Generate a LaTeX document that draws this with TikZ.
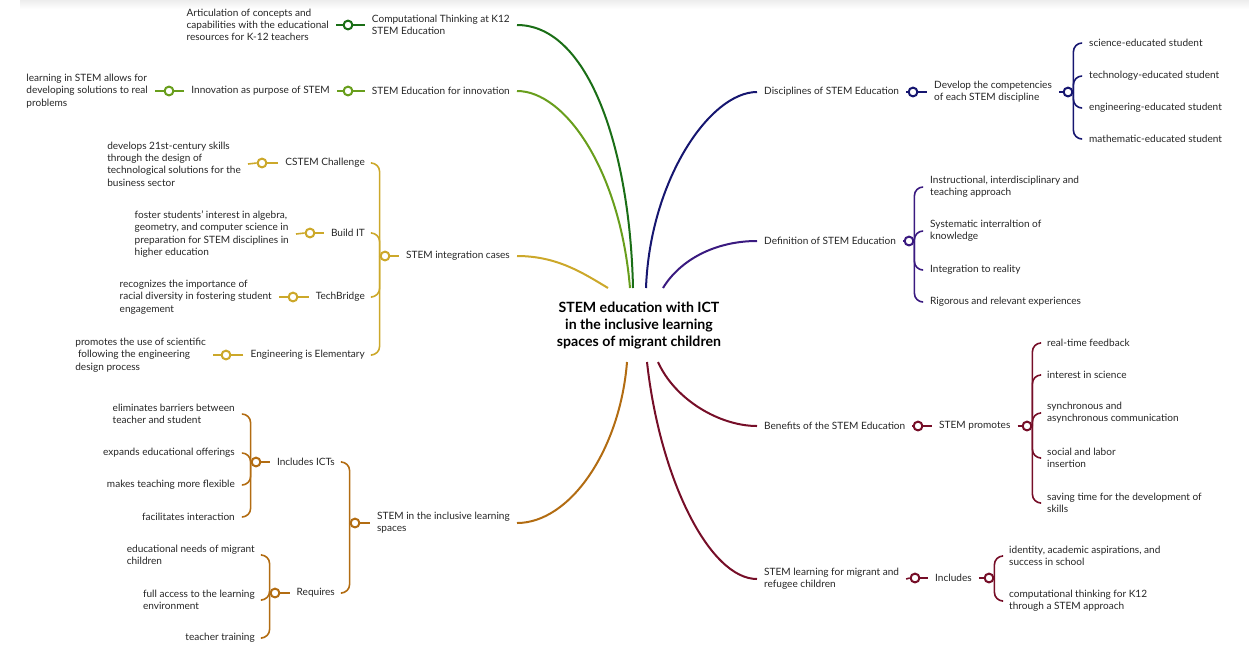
\documentclass[tikz,border=0pt]{standalone}
\usepackage{fontspec}
\setmainfont{Lato}
\usepackage{tikz}
\usetikzlibrary{positioning}
\definecolor{ctgreen}{RGB}{26,110,22}
\definecolor{ingreen}{RGB}{104,158,28}
\definecolor{gold}{RGB}{204,168,42}
\definecolor{navy}{RGB}{22,22,112}
\definecolor{indigo}{RGB}{58,26,128}
\definecolor{amber}{RGB}{178,108,18}
\definecolor{maroon}{RGB}{118,14,40}
\definecolor{inkgray}{RGB}{38,38,38}

\begin{document}
\begin{tikzpicture}[x=0.75pt,y=-0.75pt,
  topic/.style={font=\fontsize{7.55}{9.2}\selectfont, align=left, inner xsep=5.2pt, inner ysep=1pt, text=inkgray},
  knob/.style={circle, draw=#1, line width=1.5pt, fill=white, minimum size=6.6pt, inner sep=0pt},
  branch/.style={line width=1.5pt},
  twig/.style={line width=1.2pt},
  brace/.style={line width=1.2pt, rounded corners=6.5pt}]
\useasboundingbox (0,0) rectangle (1249,644);
\fill[top color=black!7, bottom color=white] (20,0) rectangle (1249,9);

\node[font=\bfseries\fontsize{10.6}{12.75}\selectfont, align=center, text=black] (root) at (639,326) {STEM education with ICT\\in the inclusive learning\\spaces of migrant children};
\coordinate (rt1) at (608,288);
\coordinate (rt2) at (633,288);
\coordinate (rt3) at (630,288);
\coordinate (rt4) at (646,288);
\coordinate (rt5) at (663,288);
\coordinate (rb1) at (627,362);
\coordinate (rb2) at (658,362);
\coordinate (rb3) at (647,362);

% left side
\node[topic, anchor=east] (ct) at (517,25) {Computational Thinking at K12\\STEM Education};
\node[knob=ctgreen] (ctk) at (348,25) {};
\node[topic, anchor=east] (art) at (336,25) {Articulation of concepts and\\capabilities with the educational\\resources for K-12 teachers};

\node[topic, anchor=east] (sei) at (517,91) {STEM Education for innovation};
\node[knob=ingreen] (seik) at (348,91) {};
\node[topic, anchor=east] (inn) at (337,91) {Innovation as purpose of STEM};
\node[knob=ingreen] (innk) at (169,91) {};
\node[topic, anchor=east] (lrn) at (155,91) {learning in STEM allows for\\developing solutions to real\\problems};

\node[topic, anchor=east] (sic) at (517,256) {STEM integration cases};
\node[knob=gold] (sick) at (385,256) {};
\node[topic, anchor=east] (cstem) at (372,163) {CSTEM Challenge};
\node[topic, anchor=east] (bit) at (372,233) {Build IT};
\node[topic, anchor=east] (tb) at (372,297) {TechBridge};
\node[topic, anchor=east] (eie) at (372,355) {Engineering is Elementary};
\node[knob=gold] (cstemk) at (262,163) {};
\node[topic, anchor=east] (dev) at (248,164) {develops 21st-century skills\\through the design of\\technological solutions for the\\business sector};
\node[knob=gold] (bitk) at (310,233) {};
\node[topic, anchor=east] (fos) at (296,234) {foster students' interest in algebra,\\geometry, and computer science in\\preparation for STEM disciplines in\\higher education};
\node[knob=gold] (tbk) at (293,297) {};
\node[topic, anchor=east] (rec) at (279,297) {recognizes the importance of\\racial diversity in fostering student\\engagement};
\node[knob=gold] (eiek) at (226,355) {};
\node[topic, anchor=east] (pro) at (213,355) {promotes the use of scientific\\\hspace{2pt}following the engineering\\design process};

\node[topic, anchor=east] (sils) at (517,523) {STEM in the inclusive learning\\spaces};
\node[knob=amber] (silk) at (355,523) {};
\node[topic, anchor=east] (ict) at (342,462) {Includes ICTs};
\node[topic, anchor=east] (req) at (342,593) {Requires};
\node[knob=amber] (ictk) at (256,462) {};
\node[topic, anchor=east] (elim) at (242,414) {eliminates barriers between\\teacher and student};
\node[topic, anchor=east] (exp) at (242,453) {expands educational offerings};
\node[topic, anchor=east] (mak) at (242,485) {makes teaching more flexible};
\node[topic, anchor=east] (fac) at (242,517) {facilitates interaction};
\node[knob=amber] (reqk) at (275,593) {};
\node[topic, anchor=east] (edu) at (262,555) {educational needs of migrant\\children};
\node[topic, anchor=east] (acc) at (262,600) {full access to the learning\\environment};
\node[topic, anchor=east] (tt) at (262,638) {teacher training};

% right side
\node[topic, anchor=west] (dis) at (757,92) {Disciplines of STEM Education};
\node[knob=navy] (disk) at (913,92) {};
\node[topic, anchor=west] (comp) at (927,92) {Develop the competencies\\of each STEM discipline};
\node[knob=navy] (compk) at (1068,92) {};
\node[topic, anchor=west] (sci) at (1082,43) {science-educated student};
\node[topic, anchor=west] (tec) at (1082,76) {technology-educated student};
\node[topic, anchor=west] (eng) at (1082,108) {engineering-educated student};
\node[topic, anchor=west] (mat) at (1082,139) {mathematic-educated student};

\node[topic, anchor=west] (def) at (757,241) {Definition of STEM Education};
\node[knob=indigo] (defk) at (909,241) {};
\node[topic, anchor=west] (ins) at (923,187) {Instructional, interdisciplinary and\\teaching approach};
\node[topic, anchor=west] (sys) at (923,231) {Systematic interraltion of\\knowledge};
\node[topic, anchor=west] (itr) at (923,270) {Integration to reality};
\node[topic, anchor=west] (rig) at (923,302) {Rigorous and relevant experiences};

\node[topic, anchor=west] (ben) at (757,426) {Benefits of the STEM Education};
\node[knob=maroon] (benk) at (918,426) {};
\node[topic, anchor=west] (prom) at (932,426) {STEM promotes};
\node[knob=maroon] (promk) at (1027,426) {};
\node[topic, anchor=west] (rtf) at (1040,343) {real-time feedback};
\node[topic, anchor=west] (isc) at (1040,375) {interest in science};
\node[topic, anchor=west] (syn) at (1040,413) {synchronous and\\asynchronous communication};
\node[topic, anchor=west] (soc) at (1040,458) {social and labor\\insertion};
\node[topic, anchor=west] (sav) at (1040,503) {saving time for the development of\\skills};

\node[topic, anchor=west] (mig) at (757,579) {STEM learning for migrant and\\refugee children};
\node[knob=maroon] (migk) at (915,578) {};
\node[topic, anchor=west] (incl) at (928,578) {Includes};
\node[knob=maroon] (inclk) at (989,578) {};
\node[topic, anchor=west] (ide) at (1002,556) {identity, academic aspirations, and\\success in school};
\node[topic, anchor=west] (ck12) at (1002,601) {computational thinking for K12\\through a STEM approach};

% main branches
\draw[branch, ctgreen] (ct.east) .. controls +(72,0) and +(-3,-138) .. (rt2);
\draw[branch, ingreen] (sei.east) .. controls +(48,0) and +(-10,-118) .. (rt3);
\draw[branch, gold] (sic.east) .. controls +(40,0) and +(-25,-15) .. (rt1);
\draw[branch, navy] (dis.west) .. controls +(-47,0) and +(4,-108) .. (rt4);
\draw[branch, indigo] (def.west) .. controls +(-42,0) and +(17,-28) .. (rt5);
\draw[branch, amber] (sils.east) .. controls +(53,0) and +(-7,88) .. (rb1);
\draw[branch, maroon] (ben.west) .. controls +(-37,0) and +(17,38) .. (rb2);
\draw[branch, maroon] (mig.west) .. controls +(-47,0) and +(13,118) .. (rb3);

% stubs
\draw[twig, ctgreen] (ct.west) -- (ctk.east);
\draw[twig, ctgreen] (ctk.west) -- (art.east);
\draw[twig, ingreen] (sei.west) -- (seik.east);
\draw[twig, ingreen] (seik.west) -- (inn.east);
\draw[twig, ingreen] (inn.west) -- (innk.east);
\draw[twig, ingreen] (innk.west) -- (lrn.east);
\draw[twig, gold] (sic.west) -- (sick.east);
\draw[twig, gold] (cstem.west) -- (cstemk.east);
\draw[twig, gold] (cstemk.west) -- (dev.east);
\draw[twig, gold] (bit.west) -- (bitk.east);
\draw[twig, gold] (bitk.west) -- (fos.east);
\draw[twig, gold] (tb.west) -- (tbk.east);
\draw[twig, gold] (tbk.west) -- (rec.east);
\draw[twig, gold] (eie.west) -- (eiek.east);
\draw[twig, gold] (eiek.west) -- (pro.east);
\draw[twig, amber] (sils.west) -- (silk.east);
\draw[twig, amber] (ict.west) -- (ictk.east);
\draw[twig, amber] (req.west) -- (reqk.east);
\draw[twig, navy] (dis.east) -- (disk.west);
\draw[twig, navy] (disk.east) -- (comp.west);
\draw[twig, navy] (comp.east) -- (compk.west);
\draw[twig, indigo] (def.east) -- (defk.west);
\draw[twig, maroon] (ben.east) -- (benk.west);
\draw[twig, maroon] (benk.east) -- (prom.west);
\draw[twig, maroon] (prom.east) -- (promk.west);
\draw[twig, maroon] (mig.east) -- (migk.west);
\draw[twig, maroon] (migk.east) -- (incl.west);
\draw[twig, maroon] (incl.east) -- (inclk.west);

% braces
\foreach \kid in {cstem,bit,tb,eie}
  \draw[brace, gold] (sick.west) |- (\kid.east);
\foreach \kid in {ict,req}
  \draw[brace, amber] (silk.west) |- (\kid.east);
\foreach \kid in {elim,exp,mak,fac}
  \draw[brace, amber] (ictk.west) |- (\kid.east);
\foreach \kid in {edu,acc,tt}
  \draw[brace, amber] (reqk.west) |- (\kid.east);
\foreach \kid in {sci,tec,eng,mat}
  \draw[brace, navy] (compk.east) |- (\kid.west);
\foreach \kid in {ins,sys,itr,rig}
  \draw[brace, indigo] (defk.east) |- (\kid.west);
\foreach \kid in {rtf,isc,syn,soc,sav}
  \draw[brace, maroon] (promk.east) |- (\kid.west);
\foreach \kid in {ide,ck12}
  \draw[brace, maroon] (inclk.east) |- (\kid.west);
\end{tikzpicture}
\end{document}
